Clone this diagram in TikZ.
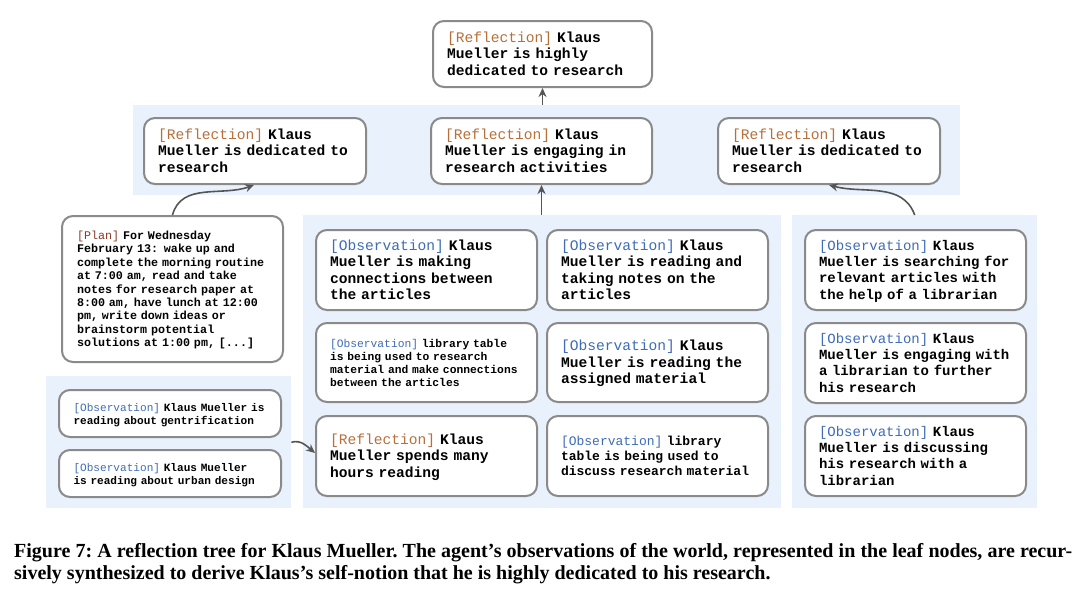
\documentclass[tikz,border=0pt]{standalone}
\usepackage{fontspec}
\setmainfont{Liberation Serif}
\newfontfamily\mono{Liberation Mono}
\usetikzlibrary{arrows.meta}
\definecolor{panelblue}{RGB}{232,241,252}
\definecolor{boxgray}{RGB}{138,138,138}
\definecolor{reflc}{RGB}{184,112,58}
\definecolor{obsc}{RGB}{62,108,184}
\definecolor{planc}{RGB}{140,58,40}
\definecolor{arrc}{RGB}{85,85,85}
\newcommand\Rlab{\textcolor{reflc}{\mdseries[Reflection]}}
\newcommand\Olab{\textcolor{obsc}{\mdseries[Observation]}}
\newcommand\Plab{\textcolor{planc}{\mdseries[Plan]}}
\newcommand\lines[1]{\raisebox{-1.5pt}[\height][\depth]{\begin{tabular}{@{}l@{}}#1\end{tabular}}}
\tikzset{
 panel/.style={fill=panelblue, draw=none, anchor=north west, inner sep=0pt},
 box/.style={draw=boxgray, line width=2pt, rounded corners=11pt, fill=white,
   anchor=north west, align=left, inner xsep=14pt, inner ysep=0pt},
 big/.style={font=\mono\bfseries\fontsize{14.6}{16.5}\selectfont},
 bigr/.style={font=\mono\bfseries\fontsize{14.0}{16.4}\selectfont},
 mid/.style={font=\mono\bfseries\fontsize{13.0}{15}\selectfont},
 small/.style={font=\mono\bfseries\fontsize{11.7}{13.4}\selectfont},
 tiny/.style={font=\mono\bfseries\fontsize{11.1}{13}\selectfont},
 arr/.style={draw=arrc, line width=1.6pt, -{Stealth[length=9pt,width=8pt]}},
}
\begin{document}
\begin{tikzpicture}[x=1pt,y=-1pt]
\useasboundingbox (0,0) rectangle (1080,592);
% panels
\node[panel, minimum width=827pt, minimum height=90pt] (band) at (133,105) {};
\node[panel, minimum width=478pt, minimum height=293pt] (midpanel) at (303,215) {};
\node[panel, minimum width=245pt, minimum height=293pt] (rightpanel) at (792,215) {};
\node[panel, minimum width=245pt, minimum height=132pt] (leftpanel) at (46,376) {};
% top
\node[box, big, text width=191pt, minimum height=66pt] (top) at (432,20)
  {\lines{\Rlab{} Klaus\\Mueller is highly\\dedicated to research}};
% reflections
\node[box, big, text width=194pt, minimum height=66pt] (reflL) at (143,117)
  {\lines{\Rlab{} Klaus\\Mueller is dedicated to\\research}};
\node[box, big, text width=193pt, minimum height=66pt] (reflM) at (430,117)
  {\lines{\Rlab{} Klaus\\Mueller is engaging in\\research activities}};
\node[box, big, text width=194pt, minimum height=66pt] (reflR) at (717,117)
  {\lines{\Rlab{} Klaus\\Mueller is dedicated to\\research}};
% plan
\node[box, small, text width=191pt, minimum height=146pt, inner xsep=15pt] (plan) at (61,215)
  {\lines{\Plab{} For Wednesday\\February 13: wake up and\\complete the morning routine\\at 7:00 am, read and take\\notes for research paper at\\8:00 am, have lunch at 12:00\\pm, write down ideas or\\brainstorm potential\\solutions at 1:00 pm, [...]}};
% middle panel
\node[box, big, text width=193pt, minimum height=80pt] (m11) at (315,229)
  {\lines{\Olab{} Klaus\\Mueller is making\\connections between\\the articles}};
\node[box, big, text width=193pt, minimum height=80pt] (m12) at (546,229)
  {\lines{\Olab{} Klaus\\Mueller is reading and\\taking notes on the\\articles}};
\node[box, font=\mono\bfseries\fontsize{11.3}{13}\selectfont, text width=193pt, minimum height=79pt] (m21) at (315,322)
  {\lines{\Olab{} library table\\is being used to research\\material and make connections\\between the articles}};
\node[box, big, text width=193pt, minimum height=79pt] (m22) at (546,322)
  {\lines{\Olab{} Klaus\\Mueller is reading the\\assigned material}};
\node[box, big, text width=193pt, minimum height=80pt] (m31) at (315,415)
  {\lines{\Rlab{} Klaus\\Mueller spends many\\hours reading}};
\node[box, mid, text width=193pt, minimum height=80pt] (m32) at (546,415)
  {\lines{\Olab{} library\\table is being used to\\discuss research material}};
% right panel
\node[box, bigr, text width=193pt, minimum height=80pt] (r1) at (804,229)
  {\lines{\Olab{} Klaus\\Mueller is searching for\\relevant articles with\\the help of a librarian}};
\node[box, bigr, text width=193pt, minimum height=80pt] (r2) at (804,322)
  {\lines{\Olab{} Klaus\\Mueller is engaging with\\a librarian to further\\his research}};
\node[box, bigr, text width=193pt, minimum height=80pt] (r3) at (804,415)
  {\lines{\Olab{} Klaus\\Mueller is discussing\\his research with a\\librarian}};
% left bottom panel
\node[box, tiny, text width=193pt, minimum height=47pt, inner xsep=14.5pt] (l1) at (58,389)
  {\lines{\Olab{} Klaus Mueller is\\reading about gentrification}};
\node[box, tiny, text width=193pt, minimum height=47pt, inner xsep=14.5pt] (l2) at (58,449)
  {\lines{\Olab{} Klaus Mueller\\is reading about urban design}};
% connectors
\draw[arr] (top.south |- band.north) -- (top.south);
\draw[arr] (reflM.south |- midpanel.north) -- (reflM.south);
\draw[arr] (plan.north) to[out=75, in=200] ([xshift=-1pt]reflL.south);
\draw[arr] (rightpanel.north) to[out=110, in=-15] (reflR.south);
\draw[arr] (leftpanel.east) to[out=15, in=140] ([yshift=3pt]m31.west);
% caption
\node[anchor=north west, text width=1058pt, align=justify, inner sep=0pt,
  font=\frenchspacing\bfseries\fontsize{20}{22}\selectfont] (cap) at (14,543)
  {Figure 7: A reflection tree for Klaus Mueller. The agent’s observations of the world, represented in the leaf nodes, are recur-\linebreak sively synthesized to derive Klaus’s self-notion that he is highly dedicated to his research.};
\end{tikzpicture}
\end{document}
